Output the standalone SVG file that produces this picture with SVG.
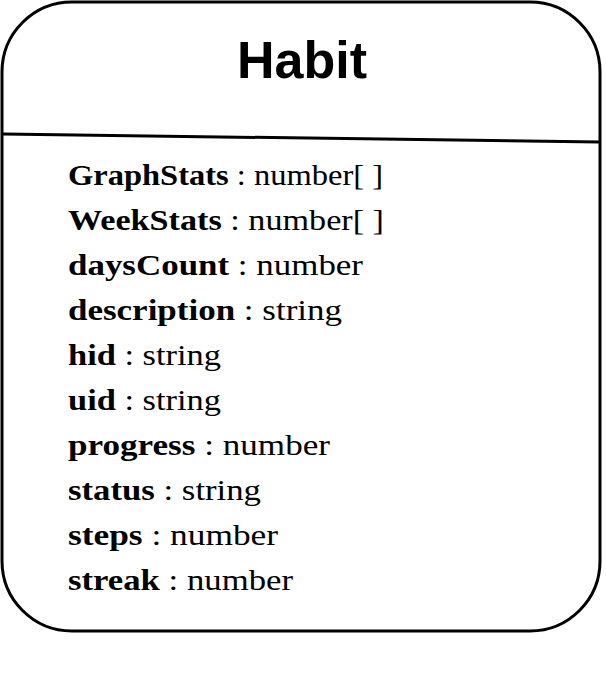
<svg xmlns="http://www.w3.org/2000/svg" width="606" height="681" viewBox="0 0 606 681">
<style>
.box{fill:#fff;stroke:#000;stroke-width:3}
.sep{stroke:#000;stroke-width:3;fill:none}
.title{font-family:"Liberation Sans",Arial,sans-serif;font-weight:bold;font-size:52px;fill:#000}
.attr{font-family:"Liberation Serif","Times New Roman",serif;font-size:30px;fill:#000}
.b{font-weight:bold}
</style>
<rect width="606" height="681" fill="#fff"/>
<g id="habit">
<rect class="box" x="2" y="2" width="598" height="629" rx="70" ry="70"/>
<text class="title" x="302" y="78" text-anchor="middle">Habit</text>
<line class="sep" x1="3" y1="134" x2="599" y2="142"/>
<text class="attr" x="68" y="185" textLength="315" lengthAdjust="spacingAndGlyphs"><tspan class="b">GraphStats</tspan> : number[ ]</text>
<text class="attr" x="68" y="230" textLength="316" lengthAdjust="spacingAndGlyphs"><tspan class="b">WeekStats</tspan> : number[ ]</text>
<text class="attr" x="68" y="275" textLength="295" lengthAdjust="spacingAndGlyphs"><tspan class="b">daysCount</tspan> : number</text>
<text class="attr" x="68" y="320" textLength="274" lengthAdjust="spacingAndGlyphs"><tspan class="b">description</tspan> : string</text>
<text class="attr" x="68" y="365" textLength="153" lengthAdjust="spacingAndGlyphs"><tspan class="b">hid</tspan> : string</text>
<text class="attr" x="68" y="410" textLength="153" lengthAdjust="spacingAndGlyphs"><tspan class="b">uid</tspan> : string</text>
<text class="attr" x="68" y="455" textLength="262" lengthAdjust="spacingAndGlyphs"><tspan class="b">progress</tspan> : number</text>
<text class="attr" x="68" y="500" textLength="193" lengthAdjust="spacingAndGlyphs"><tspan class="b">status</tspan> : string</text>
<text class="attr" x="68" y="545" textLength="210" lengthAdjust="spacingAndGlyphs"><tspan class="b">steps</tspan> : number</text>
<text class="attr" x="68" y="590" textLength="225" lengthAdjust="spacingAndGlyphs"><tspan class="b">streak</tspan> : number</text>
</g>
</svg>
